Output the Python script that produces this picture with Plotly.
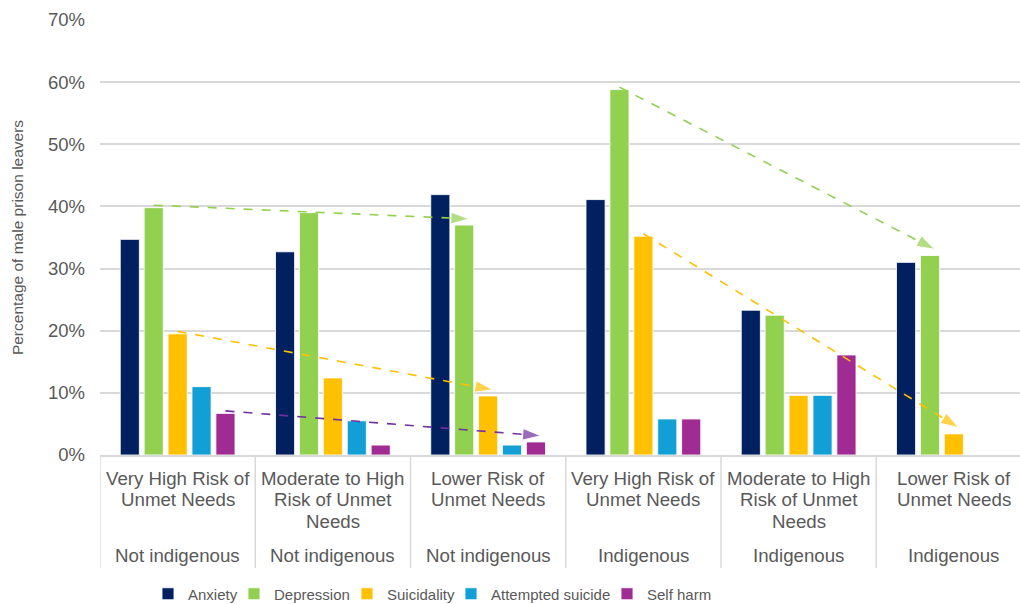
import plotly.graph_objects as go

# Category labels (one entry per line of the wrapped label)
risk_labels = [
    ["Very High Risk of", "Unmet Needs"],
    ["Moderate to High", "Risk of Unmet", "Needs"],
    ["Lower Risk of", "Unmet Needs"],
    ["Very High Risk of", "Unmet Needs"],
    ["Moderate to High", "Risk of Unmet", "Needs"],
    ["Lower Risk of", "Unmet Needs"],
]
status_labels = ["Not indigenous", "Not indigenous", "Not indigenous",
                 "Indigenous", "Indigenous", "Indigenous"]

# Percentage of male prison leavers per condition
series_names = ["Anxiety", "Depression", "Suicidality", "Attempted suicide", "Self harm"]
anxiety = [34.7, 32.7, 41.9, 41.1, 23.3, 31.0]
depression = [39.8, 39.0, 37.0, 58.8, 22.5, 32.1]
suicidality = [19.5, 12.4, 9.5, 35.2, 9.6, 3.4]
attempted_suicide = [11.0, 5.5, 1.6, 5.8, 9.6, None]
self_harm = [6.7, 1.6, 2.1, 5.8, 16.1, None]

# Trend arrows: (series, from category, to category)
trends = [
    ("Depression", 0, 2),
    ("Suicidality", 0, 2),
    ("Self harm", 0, 2),
    ("Depression", 3, 5),
    ("Suicidality", 3, 5),
]

bar_colors = ["#002060", "#92D050", "#FFC000", "#119FD6", "#A02B93"]
arrow_colors = {"Depression": "#92D050", "Suicidality": "#FFC000", "Self harm": "#7030A0"}

FONT = "Liberation Sans, Arial, sans-serif"
GREY = "#595959"
LINE = "#d9d9d9"

BARGAP = 0.23
BARGROUPGAP = 0.2

# left edge (px) of each legend entry along the bottom row
legend_left_px = [148, 234, 347, 451, 607]

values = dict(zip(series_names, [anxiety, depression, suicidality, attempted_suicide, self_harm]))
positions = list(range(len(status_labels)))


def legend_id(k):
    return "legend" if k == 0 else f"legend{k + 1}"


fig = go.Figure()
for k, (name, color) in enumerate(zip(series_names, bar_colors)):
    fig.add_trace(go.Bar(
        name=name, x=positions, y=values[name], legend=legend_id(k),
        marker=dict(color=color, line=dict(color="rgba(255,255,255,0.85)", width=1)),
    ))

# Dashed trend arrows from one bar top to another
slot = (1 - BARGAP) / len(series_names)
for name, g0, g1 in trends:
    idx = series_names.index(name)
    off = (idx - (len(series_names) - 1) / 2) * slot
    x0, x1 = g0 + off, g1 + off + 0.2 * slot
    y0, y1 = values[name][g0] + 0.4, values[name][g1] + 1.0
    fig.add_trace(go.Scatter(
        x=[x0, x1], y=[y0, y1], mode="lines+markers",
        line=dict(color=arrow_colors[name], width=1.6, dash="dash"),
        marker=dict(symbol="arrow", size=[0, 19], angleref="previous",
                    color=arrow_colors[name]),
        showlegend=False, hoverinfo="skip",
    ))

PLOT_TOP, PLOT_BOTTOM = 20, 455
plot_h = PLOT_BOTTOM - PLOT_TOP


def paper_y(px):
    return -(px - PLOT_BOTTOM) / plot_h


annotations = []
line_centres = [478, 499.5, 521]
for i, lines in enumerate(risk_labels):
    for j, txt in enumerate(lines):
        annotations.append(dict(
            x=i, y=paper_y(line_centres[j]), xref="x", yref="paper",
            text=txt, showarrow=False, yanchor="middle",
            font=dict(family=FONT, size=18.7, color=GREY),
        ))
    annotations.append(dict(
        x=i, y=paper_y(555), xref="x", yref="paper",
        text=status_labels[i], showarrow=False, yanchor="middle",
        font=dict(family=FONT, size=18.7, color=GREY),
    ))

shapes = []
for k in range(len(status_labels) + 1):
    shapes.append(dict(
        type="line", xref="x", yref="paper",
        x0=k - 0.5, x1=k - 0.5, y0=0, y1=paper_y(568),
        line=dict(color=LINE, width=1.5),
    ))

W, H = 1020, 604
legends = {}
for k in range(len(series_names)):
    legends[legend_id(k)] = dict(
        orientation="h", xref="container", yref="container",
        x=legend_left_px[k] / W, y=1 - 594 / H, xanchor="left", yanchor="middle",
        font=dict(family=FONT, size=15, color=GREY),
        bgcolor="rgba(0,0,0,0)", borderwidth=0,
    )

fig.update_layout(
    width=W, height=H,
    margin=dict(l=100, r=0, t=PLOT_TOP, b=H - PLOT_BOTTOM),
    paper_bgcolor="white", plot_bgcolor="white",
    barmode="group", bargap=BARGAP, bargroupgap=BARGROUPGAP,
    font=dict(family=FONT, color=GREY),
    xaxis=dict(range=[-0.5, 5.426], showticklabels=False, showgrid=False,
               zeroline=False, showline=True, linecolor=LINE, linewidth=1.5),
    yaxis=dict(range=[0, 70], dtick=10, ticksuffix="%", showgrid=True,
               gridcolor=LINE, gridwidth=1.5, zeroline=False,
               tickfont=dict(family=FONT, size=18.5, color=GREY),
               ticklabelstandoff=14,
               title=dict(text="Percentage of male prison leavers",
                          font=dict(family=FONT, size=15.5, color=GREY),
                          standoff=20)),
    annotations=annotations,
    shapes=shapes,
    **legends,
)

fig.write_html("out.html")
